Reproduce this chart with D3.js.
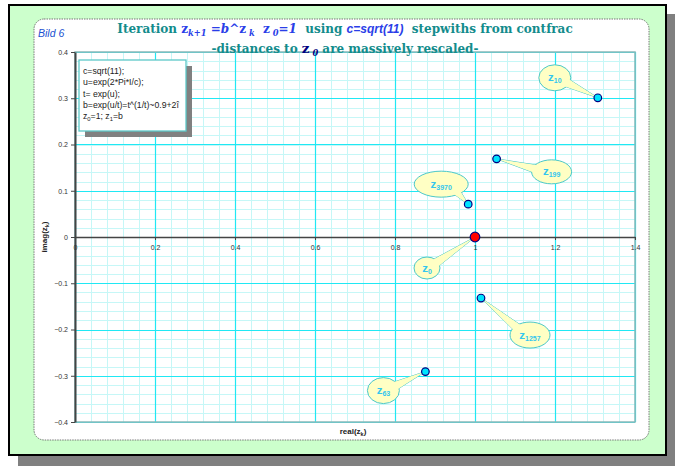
<!DOCTYPE html>
<html>
<head>
<meta charset="utf-8">
<script src="https://cdn.jsdelivr.net/npm/d3@7"></script>
<style>
  html, body { margin: 0; padding: 0; background: #ffffff; }
  svg { display: block; }
</style>
</head>
<body>
<svg id="chart" width="676" height="468"></svg>
<script>
// Iterates z_k of z_{k+1} = b^z_k, picked at steps from the continued fraction
const pointLabels = ["0", "10", "199", "3970", "1257", "63"];
const pointRe = [1.000, 1.307, 1.054, 0.983, 1.015, 0.876];
const pointIm = [0.000, 0.301, 0.169, 0.071, -0.132, -0.291];

const xTicks = [0, 0.2, 0.4, 0.6, 0.8, 1, 1.2, 1.4];
const yTicks = [-0.4, -0.3, -0.2, -0.1, 0, 0.1, 0.2, 0.3, 0.4];

const infoLines = ["c=sqrt(11);", "u=exp(2*Pi*I/c);", "t= exp(u);", "b=exp(u/t)=t^(1/t)~0.9+2\u00ee"];

// callout bubble placement (pixel offset from its point, radii)
const calloutLayout = [
  { dx: -48, dy: 31, rx: 13, ry: 11 },
  { dx: -43, dy: -20, rx: 16, ry: 13 },
  { dx: 55, dy: 13, rx: 20, ry: 12 },
  { dx: -27, dy: -20, rx: 27, ry: 13 },
  { dx: 49, dy: 37, rx: 20, ry: 13 },
  { dx: -42, dy: 19, rx: 16, ry: 13 }
];

const svg = d3.select("#chart");
const sans = "'Liberation Sans', Arial, sans-serif";
const serif = "'DejaVu Serif', 'Liberation Serif', serif";

// outer frame with drop shadow
svg.append("rect").attr("x", 18).attr("y", 14).attr("width", 657).attr("height", 452).attr("fill", "#808080");
svg.append("rect").attr("x", 9).attr("y", 5).attr("width", 657).attr("height", 450)
  .attr("fill", "#ccffcc").attr("stroke", "#000").attr("stroke-width", 2);

// inner chart panel
svg.append("rect").attr("x", 34).attr("y", 19).attr("width", 615).attr("height", 421)
  .attr("rx", 10).attr("fill", "#fff").attr("stroke", "#777").attr("stroke-width", 1)
  .attr("stroke-dasharray", "1.5,1");

const x = d3.scaleLinear().domain([0, 1.4]).range([75, 635]);
const y = d3.scaleLinear().domain([-0.4, 0.4]).range([422, 52]);
const px = v => Math.round(x(v)) + 0.5;
const py = v => Math.round(y(v)) + 0.5;

const plot = svg.append("g");

// minor grid
const xMinor = d3.range(0, 1.4001, 0.04);
const yMinor = d3.range(-0.4, 0.4001, 0.02);
plot.selectAll(".vmin").data(xMinor).join("line")
  .attr("x1", d => px(d)).attr("x2", d => px(d)).attr("y1", y(0.4)).attr("y2", y(-0.4))
  .attr("stroke", "#c6f7f7").attr("stroke-width", 1);
plot.selectAll(".hmin").data(yMinor).join("line")
  .attr("x1", x(0)).attr("x2", x(1.4)).attr("y1", d => py(d)).attr("y2", d => py(d))
  .attr("stroke", "#c6f7f7").attr("stroke-width", 1);

// major grid
plot.selectAll(".vmaj").data(xTicks).join("line")
  .attr("x1", d => px(d)).attr("x2", d => px(d)).attr("y1", y(0.4)).attr("y2", y(-0.4))
  .attr("stroke", "#20e8f4").attr("stroke-width", 1.2);
plot.selectAll(".hmaj").data(yTicks).join("line")
  .attr("x1", x(0)).attr("x2", x(1.4)).attr("y1", d => py(d)).attr("y2", d => py(d))
  .attr("stroke", "#20e8f4").attr("stroke-width", 1.2);

// plot border
plot.append("rect").attr("x", x(0)).attr("y", y(0.4))
  .attr("width", x(1.4) - x(0)).attr("height", y(-0.4) - y(0.4))
  .attr("fill", "none").attr("stroke", "#8ab8b8").attr("stroke-width", 1.5);

// y axis
const yAxis = d3.axisLeft(y).tickValues(yTicks).tickSize(4).tickSizeOuter(0).tickPadding(3)
  .tickFormat(d => d === 0 ? "0" : d3.format(".1f")(d));
const gy = svg.append("g").attr("transform", `translate(${x(0)},0)`).call(yAxis);
gy.select(".domain").attr("stroke", "#444").attr("stroke-width", 2);
gy.selectAll(".tick line").attr("stroke", "#444");
gy.selectAll(".tick text").attr("font-family", sans).attr("font-size", 7).attr("fill", "#333");

// x axis along imag = 0
const xAxis = d3.axisBottom(x).tickValues(xTicks).tickSize(3).tickSizeOuter(0).tickPadding(5)
  .tickFormat(d => d === 0 ? "0" : d3.format("~g")(d));
const gx = svg.append("g").attr("transform", `translate(0,${y(0)})`).call(xAxis);
gx.select(".domain").attr("stroke", "#444").attr("stroke-width", 1.5);
gx.selectAll(".tick line").attr("stroke", "#444");
gx.selectAll(".tick text").attr("font-family", sans).attr("font-size", 7).attr("fill", "#333");

// axis titles
const yTitle = svg.append("text").attr("transform", `translate(47,${y(0)}) rotate(-90)`)
  .attr("text-anchor", "middle").attr("font-family", sans).attr("font-size", 8)
  .attr("font-weight", "bold").attr("fill", "#222");
yTitle.append("tspan").text("imag(z");
yTitle.append("tspan").attr("font-size", 5.5).attr("dy", 2).text("k");
yTitle.append("tspan").attr("dy", -2).text(")");

const xTitle = svg.append("text").attr("x", 353).attr("y", 434)
  .attr("text-anchor", "middle").attr("font-family", sans).attr("font-size", 8)
  .attr("font-weight", "bold").attr("fill", "#222");
xTitle.append("tspan").text("real(z");
xTitle.append("tspan").attr("font-size", 5.5).attr("dy", 2).text("k");
xTitle.append("tspan").attr("dy", -2).text(")");

// info box with shadow
svg.append("rect").attr("x", 85).attr("y", 66).attr("width", 107).attr("height", 71).attr("fill", "#808080");
svg.append("rect").attr("x", 79).attr("y", 60).attr("width", 107).attr("height", 71)
  .attr("fill", "#fff").attr("stroke", "#5cc8c8").attr("stroke-width", 1.3);
infoLines.forEach((t, i) => {
  svg.append("text").attr("x", 83).attr("y", 74 + i * 11.3)
    .attr("font-family", sans).attr("font-size", 8.7).attr("fill", "#222").text(t);
});
const lastInfo = svg.append("text").attr("x", 83).attr("y", 74 + 4 * 11.3)
  .attr("font-family", sans).attr("font-size", 8.7).attr("fill", "#222");
lastInfo.append("tspan").text("z");
lastInfo.append("tspan").attr("font-size", 5.8).attr("dy", 2).text("0");
lastInfo.append("tspan").attr("dy", -2).text("=1; z");
lastInfo.append("tspan").attr("font-size", 5.8).attr("dy", 2).text("1");
lastInfo.append("tspan").attr("dy", -2).text("=b");

// callouts and points
const pts = pointLabels.map((lab, i) => ({
  lab, re: pointRe[i], im: pointIm[i], ...calloutLayout[i]
}));

const callouts = svg.append("g");
pts.forEach(p => {
  const qx = x(p.re), qy = y(p.im);
  const cx = qx + p.dx, cy = qy + p.dy;
  const ang = Math.atan2(qy - cy, qx - cx);
  const w = 4.5;
  const nx = -Math.sin(ang) * w, ny = Math.cos(ang) * w;
  // anchor the wedge a bit inside the ellipse rim
  const ex = cx + Math.cos(ang) * p.rx * 0.6, ey = cy + Math.sin(ang) * p.ry * 0.6;
  const wedge = `M${ex + nx},${ey + ny}L${qx},${qy}L${ex - nx},${ey - ny}Z`;
  const g = callouts.append("g");
  g.append("path").attr("d", wedge).attr("fill", "#ffffc4").attr("stroke", "#4cc8c8").attr("stroke-width", 1);
  g.append("ellipse").attr("cx", cx).attr("cy", cy).attr("rx", p.rx).attr("ry", p.ry)
    .attr("fill", "#ffffc4").attr("stroke", "#4cc8c8").attr("stroke-width", 1);
  g.append("path").attr("d", wedge).attr("fill", "#ffffc4");
  const t = g.append("text").attr("x", cx).attr("y", cy + 3.5).attr("text-anchor", "middle")
    .attr("font-family", sans).attr("font-weight", "bold").attr("fill", "#33c6ee");
  t.append("tspan").attr("font-size", 11.5).text("z");
  t.append("tspan").attr("font-size", 7).attr("dy", 2).text(p.lab);
});

svg.append("g").selectAll("circle").data(pts).join("circle")
  .attr("cx", d => x(d.re)).attr("cy", d => y(d.im))
  .attr("r", d => d.lab === "0" ? 4.8 : 3.8)
  .attr("fill", d => d.lab === "0" ? "#ff0000" : "#00e4ff")
  .attr("stroke", "#000080").attr("stroke-width", 1.2);

// titles
svg.append("text").attr("x", 38).attr("y", 37).attr("font-family", sans)
  .attr("font-style", "italic").attr("font-size", 10.5).attr("fill", "#2050d0").text("Bild 6");

const teal = "#138c8c", blue = "#2a3ee8";
const fs = 12, fsub = 8.3;
const t1 = svg.append("text").attr("x", 345).attr("y", 33).attr("text-anchor", "middle")
  .attr("font-family", serif).attr("font-weight", "bold").attr("font-size", fs).attr("fill", teal);
t1.append("tspan").text("Iteration ");
t1.append("tspan").attr("fill", blue).text("z");
t1.append("tspan").attr("fill", blue).attr("font-style", "italic").attr("font-size", fsub).attr("dy", 3).text("k+1");
t1.append("tspan").attr("fill", blue).attr("font-style", "italic").attr("dy", -3).text(" =b^");
t1.append("tspan").attr("fill", blue).text("z");
t1.append("tspan").attr("fill", blue).attr("font-style", "italic").attr("font-size", fsub).attr("dy", 3).text(" k");
t1.append("tspan").attr("fill", blue).attr("dy", -3).text("\u00a0\u00a0z");
t1.append("tspan").attr("fill", blue).attr("font-style", "italic").attr("font-size", fsub).attr("dy", 3).text(" 0");
t1.append("tspan").attr("fill", blue).attr("font-style", "italic").attr("dy", -3).text("=1");
t1.append("tspan").text("\u00a0\u00a0using ");
t1.append("tspan").attr("fill", blue).attr("font-style", "italic").attr("font-family", sans).text("c=sqrt(11)");
t1.append("tspan").text("\u00a0\u00a0stepwiths from contfrac");

const t2 = svg.append("text").attr("x", 345).attr("y", 53).attr("text-anchor", "middle")
  .attr("font-family", serif).attr("font-weight", "bold").attr("font-size", fs).attr("fill", teal);
t2.append("tspan").text("-distances to ");
t2.append("tspan").attr("fill", "#000080").attr("font-size", 13.5).text("z");
t2.append("tspan").attr("fill", "#000080").attr("font-style", "italic").attr("font-size", fsub).attr("dy", 3).text(" 0");
t2.append("tspan").attr("dy", -3).text(" are massively rescaled-");
</script>
</body>
</html>
